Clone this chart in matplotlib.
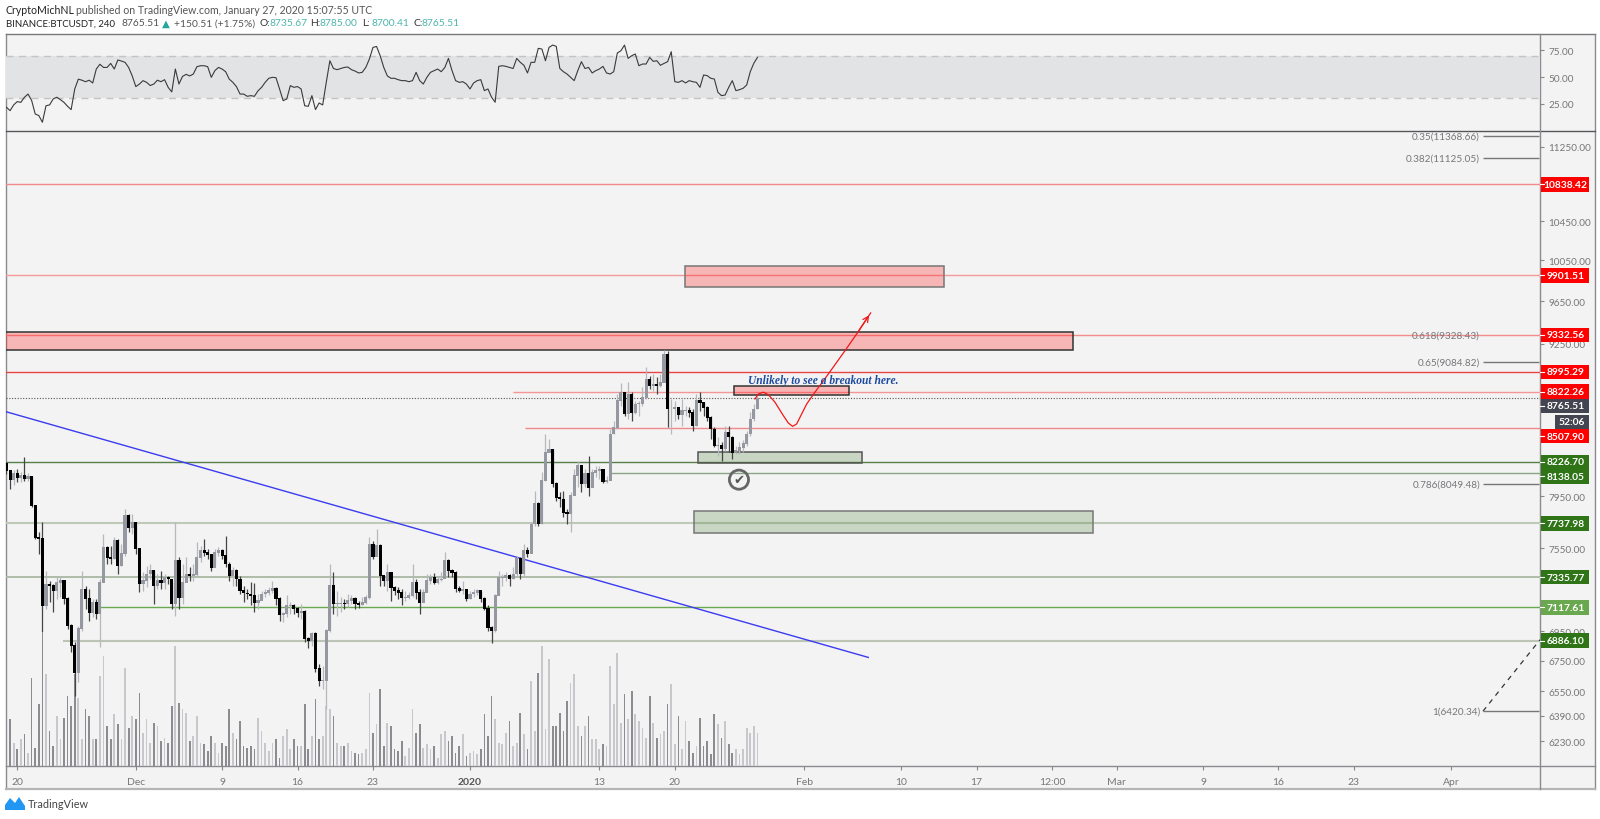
import matplotlib
matplotlib.use("Agg")
import matplotlib.pyplot as plt
import numpy as np
from matplotlib.patches import Rectangle, Polygon

plt.rcParams['font.family'] = ['Lato', 'DejaVu Sans']

# 8h bars, days are counted from 2020-01-01
first_day = -43.0

closes = [8156,8084,8130,8102,8116,8094,8110,7877,7632,7620,7132,7286,7274,7238,7298,7310,7179,6991,6853,6674,6968,7250,7179,7085,7155,7073,7298,7557,7483,7470,7607,7420,7508,7798,7708,7747,7545,7286,7310,7359,7384,7274,7310,7298,7335,7322,7143,7458,7191,7298,7359,7347,7352,
          7483,7532,7520,7500,7408,7520,7532,7495,7432,7347,7384,7322,7238,7221,7214,7203,7155,7167,7214,7226,7238,7255,7179,7066,7073,7132,7132,7108,7085,7090,6899,6888,6933,6696,6619,6619,6956,7274,7143,7143,7150,7143,7167,7179,7143,7136,7155,7191,7582,7490,7570,7347,7310,
          7371,7262,7238,7226,7191,7191,7203,7298,7226,7155,7226,7310,7335,7298,7317,7322,7458,7384,7371,7255,7238,7245,7179,7214,7226,7238,7179,7108,6980,6956,7203,7335,7335,7347,7322,7359,7470,7359,7532,7508,7734,7890,7734,8075,8306,8327,8049,7942,7929,7824,7811,7956,8116,
          8196,8048,8129,8022,8142,8156,8169,8070,8075,8458,8514,8743,8816,8628,8801,8642,8714,8720,8772,8933,8874,8889,8874,8904,9158,8670,8670,8685,8622,8656,8656,8642,8528,8743,8729,8685,8600,8500,8361,8361,8333,8472,8431,8305,8319,8347,8375,8458,8585,8670,8765.51]
highs = [8224,8143,8156,8170,8143,8265,8138,8102,7877,7670,7747,7384,7310,7286,7335,7347,7310,7191,7003,6876,6991,7384,7274,7250,7179,7179,7322,7657,7570,7570,7632,7620,7582,7851,7811,7811,7747,7545,7371,7420,7432,7384,7359,7384,7359,7347,7310,7747,7483,7432,7483,7408,7432,
         7595,7570,7620,7545,7508,7545,7557,7545,7645,7445,7408,7396,7347,7274,7250,7298,7293,7214,7238,7250,7262,7310,7262,7191,7085,7203,7155,7143,7120,7143,7097,6910,6945,6945,6729,6718,6968,7432,7371,7238,7191,7179,7214,7203,7191,7167,7191,7203,7632,7607,7696,7582,7347,
         7432,7371,7274,7262,7250,7238,7226,7432,7322,7250,7250,7359,7359,7366,7347,7371,7525,7470,7396,7384,7274,7310,7250,7238,7250,7250,7238,7191,7132,6991,7214,7384,7359,7371,7359,7408,7495,7483,7582,7557,7747,7995,7903,8143,8459,8417,8333,8062,7982,7995,7851,7982,8170,
         8236,8196,8169,8278,8169,8196,8196,8169,8115,8500,8571,8801,8895,8816,8904,8816,8743,8743,8860,9037,8963,8978,8948,8978,9195,9189,8758,8737,8685,8758,8699,8685,8670,8801,8816,8729,8699,8614,8514,8431,8389,8528,8528,8444,8361,8389,8403,8486,8642,8714,8785]
lows = [8130,8009,8036,8062,8062,8075,8075,7864,7620,7508,6945,7108,7155,7085,7179,7191,7143,6968,6808,6521,6608,6956,7108,7026,7050,7038,6841,7298,7432,7432,7470,7359,7420,7495,7670,7657,7508,7226,7238,7262,7322,7143,7250,7250,7250,7286,7108,7061,7108,7143,7298,7310,7310,
        7347,7445,7495,7470,7384,7420,7495,7470,7408,7310,7274,7274,7214,7155,7179,7132,7085,7108,7179,7191,7203,7221,7132,7026,7015,7050,7073,7073,7050,7038,6876,6835,6853,6674,6586,6564,6436,6945,7073,7061,7085,7108,7120,7143,7108,7113,7132,7143,7179,7470,7495,7274,7274,
        7238,7167,7203,7179,7132,7167,7179,7191,7179,7073,7203,7226,7286,7286,7286,7310,7335,7335,7335,7226,7226,7214,7167,7179,7191,7203,7155,7097,6956,6871,6945,7203,7274,7310,7274,7322,7347,7322,7347,7483,7520,7721,7721,7734,8075,8306,8022,7916,7864,7785,7734,7670,7956,
        8022,7981,8022,7955,8075,8102,8089,8054,8054,8102,8458,8500,8699,8614,8585,8571,8628,8614,8699,8758,8845,8830,8801,8860,8919,8514,8458,8571,8585,8528,8614,8600,8486,8528,8656,8614,8571,8417,8347,8278,8236,8319,8305,8250,8292,8292,8305,8361,8444,8571,8670]

volumes = [95,140,70,50,80,95,40,265,55,185,400,275,105,60,150,80,145,210,180,275,205,80,170,150,80,80,270,330,120,80,155,125,80,295,115,150,140,220,100,140,70,130,120,75,85,70,180,360,190,170,160,75,90,
           150,70,65,45,90,70,40,70,60,170,100,80,135,60,55,60,50,145,105,70,45,70,80,25,90,110,50,80,60,60,185,50,90,200,80,90,180,170,150,70,60,60,70,45,40,35,40,50,220,100,125,230,60,
           130,120,50,45,75,30,55,170,100,125,55,65,50,60,25,95,105,75,90,40,60,95,30,40,45,35,50,155,90,210,140,70,65,100,135,60,70,160,95,50,255,105,280,360,110,322,120,120,160,105,195,250,275,
           120,90,120,150,80,80,50,65,60,300,185,340,130,215,140,225,155,135,115,85,210,130,85,95,105,185,245,65,150,50,135,75,40,60,145,60,75,35,155,125,85,135,65,40,50,35,50,115,100,120,100]

rsi = [21.6,18.4,23.8,26.9,26.2,31,34,28,15.3,13.8,7.5,23,23.8,29.4,31,28.8,26.2,22.5,19.4,38.8,48,47,45.6,47,44.4,57.5,62,59,59,62.8,57.5,66,65,63.8,59,51,41,43.4,46.6,45,42,43.4,47,45.6,47.5,40.3,36,57.5,43.4,50.6,52.5,51,52.8,59.7,60.6,60.6,59.7,49.7,56,59,57.5,55,48,45,41,34,34,31.9,32.5,31.9,37,40.3,45,48.8,49.7,49.4,38.8,27.8,29.4,41.9,40.3,41,38.8,23,22.5,32.5,19.4,25.6,23.8,45,65.3,58,56.9,58,59,59.4,56.9,55.6,53.8,54.4,59,66.9,77.8,78.7,70,
       59,51,48.8,48.8,47.5,46.6,46.6,45.6,46.6,54.4,46.6,43.4,49.7,54.4,56,57.5,55,59,67.5,56,46.6,45,45.6,43.4,38.8,44.4,46.6,47.5,37.2,38.8,31,26.3,60,60.6,60,59,58,67.5,63.8,61,53.8,63.8,63.8,76.9,76.3,65.3,77.8,80,78.8,58,55,52.8,49.7,46.6,56,64.4,58,59,53.8,56,57.5,60,53.8,52.8,55,72.5,74.7,80,67.5,70,71.6,60.6,62.2,62.2,68.4,64.7,65.3,61,62.8,64.4,73.8,45.6,45,46.6,44.4,46.6,45.6,45,40.3,51.9,51.3,48.8,48.1,35.6,32.5,33.1,40.3,46.6,37.2,38.1,39.4,42.5,55,63,68.4]

price_ticks = [11250, 10450, 10050, 9650, 9250, 7950, 7550, 6950, 6750, 6550, 6390, 6230]
time_ticks = [-42, -31, -23, -16, -9, 0, 12, 19, 31, 40, 47, 54, 60, 68, 75, 82, 91]
time_labels = ['20', 'Dec', '9', '16', '23', '2020', '13', '20', 'Feb', '10', '17', '12:00', 'Mar', '9', '16', '23', 'Apr']
rsi_ticks = [75, 50, 25]

# horizontal levels: price, first day, colour, width
level_prices = [10838.42, 9901.51, 9332.56, 8995.29, 8822.26, 8507.90, 8226.70, 8138.05, 7737.98, 7335.77, 7117.61, 6886.10]
level_starts = [-43.1, -43.1, -43.1, -43.1, 3.99, 5.1, -43.1, 12.99, -43.1, -43.1, -34.6, -37.75]
level_colors = ['#f08a8a', '#f49a9a', '#f58c8c', '#e84545', '#f59595', '#f08a8a', '#55804a', '#8aa585', '#bfc9b8', '#a9b8a2', '#6aa84f', '#bcc4b6']
level_widths = [1.0, 1.0, 1.0, 1.0, 1.0, 1.0, 1.0, 1.0, 1.5, 1.3, 1.0, 1.5]

# price tags on the axis: text, price, colour, shift in px so they do not overlap
tag_texts = ['10838.42', '9901.51', '9332.56', '8995.29', '8822.26', '8765.51', '8507.90', '8226.70', '8138.05', '7737.98', '7335.77', '7117.61', '6886.10']
tag_prices = [10838.42, 9901.51, 9332.56, 8995.29, 8822.26, 8765.51, 8507.90, 8226.70, 8138.05, 7737.98, 7335.77, 7117.61, 6886.10]
tag_shift = [0, 0, 0, 0, 0, 8, 8, 0, 3.5, 0, 0, 0, 0]
tag_colors = ['#ff0000'] * 5 + ['#434651', '#ff0000'] + ['#2f7518'] * 4 + ['#6aa84f', '#2f7518']

fib_labels = ['0.35(11368.66)', '0.382(11125.05)', '0.618(9328.43)', '0.65(9084.82)', '0.786(8049.48)', '1(6420.34)']
fib_prices = [11368.66, 11125.05, 9328.43, 9084.82, 8049.48, 6420.34]
fib_has_line = [True, True, False, True, True, True]

# drawn boxes: day from, day to, price low, price high
red_boxes = [(19.92, 44.0, 9786, 9992), (-43.1, 55.96, 9191, 9358), (24.52, 35.13, 8795, 8868)]
red_edges = ['#777777', '#333333', '#333333']
green_boxes = [(21.18, 36.34, 8215, 8306), (20.78, 57.82, 7667, 7832)]
green_edges = ['#555555', '#777777']

trend_days = [-43.09, 36.95]
trend_prices = [8648, 6773]
fib_trend_days = [93.97, 99.26]
fib_trend_prices = [6420.34, 6893]
path_days = [26.44, 26.75, 27.21, 27.67, 28.29, 29.07, 29.53, 29.93, 30.3, 30.77, 31.23, 32.0, 33.24, 34.79, 35.87, 37.17]
path_prices = [8757, 8801, 8816, 8795, 8729, 8613, 8550, 8522, 8542, 8628, 8713, 8816, 8977, 9188, 9342, 9539]


def frac(x0, y0, x1, y1):
    # pixel box to figure fractions
    return [x0 / 1600, 1 - y1 / 820, (x1 - x0) / 1600, (y1 - y0) / 820]


fig = plt.figure(figsize=(16, 8.2), dpi=100, facecolor='white')

bg = fig.add_axes([0, 0, 1, 1], zorder=0)
bg.set_xlim(0, 1600)
bg.set_ylim(820, 0)
bg.axis('off')
bg.add_patch(Rectangle((5.5, 35), 1589.5, 755, facecolor='#f3f3f3', edgecolor='none'))
bg.plot([5.5, 5.5], [35, 790], color='#8a8a90', lw=1)
bg.plot([5.5, 1595], [35, 35], color='#77777c', lw=1)
bg.plot([1595, 1595], [35, 790], color='#8a8a90', lw=1)
bg.plot([5.5, 1595], [790, 790], color='#b5b5b5', lw=1.6)
bg.plot([5.5, 1595], [132, 132], color='#55555a', lw=1)
bg.plot([5.5, 1595], [767, 767], color='#8a8a90', lw=1)
bg.plot([1540, 1540], [35, 790], color='#8a8a90', lw=1)

x_lim = (-43.09, 99.26)

# rsi pane
ax_rsi = fig.add_axes(frac(5.5, 35, 1540, 132), zorder=2)
ax_rsi.patch.set_visible(False)
days = first_day + np.arange(len(closes)) / 3
ax_rsi.axhspan(30, 70, color='#e2e3e5', lw=0)
ax_rsi.axhline(70, color='#c4c4c4', lw=1, ls=(0, (5, 4)))
ax_rsi.axhline(30, color='#c4c4c4', lw=1, ls=(0, (5, 4)))
ax_rsi.plot(days, rsi, color='#3a3a3a', lw=0.8)
ax_rsi.set_xlim(x_lim)
ax_rsi.set_ylim(-0.7, 90.4)
ax_rsi.set_xticks([])
ax_rsi.yaxis.tick_right()
ax_rsi.set_yticks(rsi_ticks, [f'{t:.2f}' for t in rsi_ticks])
ax_rsi.tick_params(axis='y', length=3, width=0.8, color='#888888', labelcolor='#777777', labelsize=7.2, pad=3)
for s in ax_rsi.spines.values():
    s.set_visible(False)

# volume sits under the candles on its own scale
ax_vol = fig.add_axes(frac(5.5, 132, 1540, 767), zorder=1)
ax_vol.patch.set_visible(False)
opens = [highs[0] - 10] + closes[:-1]
closes_arr = np.array(closes, dtype=float)
opens_arr = np.array(opens, dtype=float)
is_up = closes_arr >= opens_arr
vol_colors = np.where(is_up, '#c8c8cc', '#8c8c90')
ax_vol.bar(days, volumes, width=0.16, color=vol_colors, lw=0)
ax_vol.set_xlim(x_lim)
ax_vol.set_ylim(0, 1905)
ax_vol.axis('off')

# price pane
ax = fig.add_axes(frac(5.5, 132, 1540, 767), zorder=3)
ax.patch.set_visible(False)
ax.set_yscale('log')
ax.set_xlim(x_lim)
ax.set_ylim(6080, 11430)

for p, st, c, w in zip(level_prices, level_starts, level_colors, level_widths):
    ax.hlines(p, st, x_lim[1], color=c, lw=w, zorder=2)
ax.hlines(closes[-1], x_lim[0], x_lim[1], color='#555555', lw=0.8, ls=(0, (1, 1.5)), zorder=2)

for (d0, d1, lo, hi), e in zip(red_boxes, red_edges):
    ax.add_patch(Rectangle((d0, lo), d1 - d0, hi - lo, facecolor=(1, 0, 0, 0.25), edgecolor=e, lw=1.1, zorder=3))
for (d0, d1, lo, hi), e in zip(green_boxes, green_edges):
    ax.add_patch(Rectangle((d0, lo), d1 - d0, hi - lo, facecolor=(0.2, 0.45, 0.1, 0.22), edgecolor=e, lw=1.1, zorder=3))

ax.plot(trend_days, trend_prices, color='#3b3bf0', lw=1, zorder=4)
ax.plot(fib_trend_days, fib_trend_prices, color='#333333', lw=0.9, ls=(0, (4, 4)), zorder=4)

# candles
wick_colors = np.where(is_up, '#b6b8be', '#444444')
ax.vlines(days, lows, highs, colors=wick_colors, lw=0.9, zorder=5)
body_colors = np.where(is_up, '#9598a1', '#000000')
bottoms = np.minimum(opens_arr, closes_arr)
ax.bar(days, np.abs(closes_arr - opens_arr) + 6, bottom=bottoms - 3, width=0.29, color=body_colors, lw=0, zorder=6)

# forecast path
ax.plot(path_days, path_prices, color='#f01818', lw=0.9, zorder=7)
ax.annotate('', xy=(path_days[-1], path_prices[-1]), xytext=(path_days[-2], path_prices[-2]),
            arrowprops=dict(arrowstyle='->', color='#f01818', lw=0.9, mutation_scale=10), zorder=7)
ax.text(25.75, 8870, 'Unlikely to see a breakout here.', family='Liberation Serif', style='italic', weight='bold',
        color='#1c4aa0', fontsize=8.3, va='bottom', ha='left', zorder=8)

# checked marker
ax.scatter([24.95], [8082], s=190, facecolor='none', edgecolor='#666666', lw=2, zorder=8)
ax.text(24.95, 8082, '\u2714', family='DejaVu Sans', fontsize=9.5, color='#555555', ha='center', va='center', zorder=8)

# fib labels
for t, p, has in zip(fib_labels, fib_prices, fib_has_line):
    ax.text(93.7, p, t, ha='right', va='center', fontsize=7.2, color='#77777b', zorder=8)
    if has:
        ax.hlines(p, 93.97, 99.16, color='#777777', lw=1, zorder=4)

ax.yaxis.tick_right()
ax.set_yticks(price_ticks, [f'{t:.2f}' for t in price_ticks])
ax.minorticks_off()
ax.tick_params(axis='y', which='major', length=3, width=0.8, color='#888888', labelcolor='#777777', labelsize=7.2, pad=3)
ax.set_xticks(time_ticks, time_labels)
ax.tick_params(axis='x', length=3, width=0.8, color='#888888', labelcolor='#777777', labelsize=7.5, pad=5)
for lab in ax.get_xticklabels():
    if lab.get_text() == '2020':
        lab.set_color('#555555')
        lab.set_weight('bold')
for s in ax.spines.values():
    s.set_visible(False)

# top layer: headers, price tags, logo
fg = fig.add_axes([0, 0, 1, 1], zorder=10)
fg.patch.set_visible(False)
fg.set_xlim(0, 1600)
fg.set_ylim(820, 0)
fg.axis('off')

for t, p, sh, c in zip(tag_texts, tag_prices, tag_shift, tag_colors):
    yc = 820 - ax.transData.transform((0, p))[1] + sh
    fg.add_patch(Rectangle((1540.7, yc - 7.3), 48.5, 14.6, facecolor=c, edgecolor='none'))
    fg.plot([1540, 1544], [yc, yc], color='white', lw=0.8)
    fg.text(1565.5, yc, t, color='white', fontsize=7.4, weight='bold', ha='center', va='center')
fg.add_patch(Rectangle((1555, 416), 34, 14, facecolor='#434651', edgecolor='none'))
fg.text(1572, 423, '52:06', color='white', fontsize=7.4, weight='bold', ha='center', va='center')

fg.text(5.5, 10, 'CryptoMichNL', color='#222222', fontsize=7.6, va='center')
fg.text(76.5, 10, 'published on TradingView.com, January 27, 2020 15:07:55 UTC', color='#555555', fontsize=7.6, va='center')
head_parts = [('BINANCE:BTCUSDT, 240', 5.5, '#222222', 6.9), ('8765.51', 122, '#555555', 7.4),
              ('\u25b2', 162, '#26a69a', 7.4), ('+150.51 (+1.75%)', 174, '#555555', 7.4),
              ('O:', 259, '#333333', 7.4), ('8735.67', 269, '#4db6ac', 7.4),
              ('H:', 310, '#333333', 7.4), ('8785.00', 320, '#4db6ac', 7.4),
              ('L:', 362, '#333333', 7.4), ('8700.41', 371, '#4db6ac', 7.4),
              ('C:', 413, '#333333', 7.4), ('8765.51', 422, '#4db6ac', 7.4)]
for t, x, c, fs in head_parts:
    fam = ['DejaVu Sans'] if t == '\u25b2' else None
    fg.text(x, 24, t, color=c, fontsize=fs, va='center', family=fam)

# tradingview logo
fg.add_patch(Polygon([(5, 811), (5, 806), (10, 799), (15, 804), (19, 798), (25, 807), (25, 811)],
                     closed=True, facecolor='#2196f3', edgecolor='none'))
fg.text(28, 805, 'TradingView', color='#444444', fontsize=7.8, va='center')

fig.savefig('out.png', dpi=100, facecolor='white')
